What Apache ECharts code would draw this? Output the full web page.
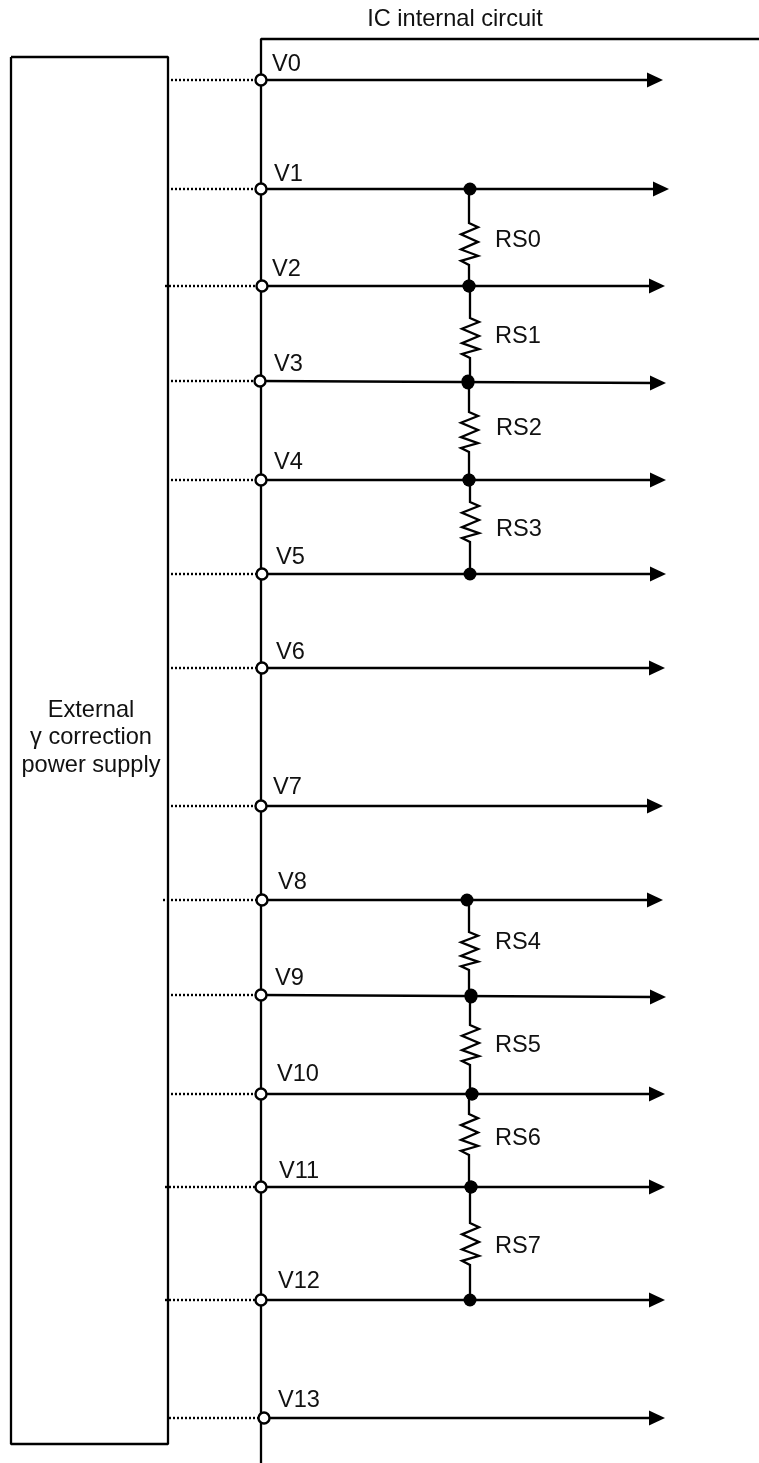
<!DOCTYPE html>
<html>
<head>
<meta charset="utf-8">
<style>html,body{margin:0;padding:0;background:#fff}#c{width:759px;height:1463px}</style>
<script src="https://cdn.jsdelivr.net/npm/echarts@6/dist/echarts.min.js"></script>
</head>
<body>
<div id="c"></div>
<script>
// Rails
const railNames = ['V0','V1','V2','V3','V4','V5','V6','V7','V8','V9','V10','V11','V12','V13'];
const railY     = [80,189,286,381,480,574,668,806,900,995,1094,1187,1300,1418];
const railEndY  = [80,189,286,383,480,574,668,806,900,997,1094,1187,1300,1418];
const pinX      = [261,261,262,260,261,262,262,261,262,261,261,261,261,264];
const dotStartX = [171,171,165,171,171,171,171,171,163,167,167,165,165,169];
const arrowTipX = [663,669,665,666,666,666,665,663,663,666,665,665,665,665];
const nameX     = [272,274,272,274,274,276,276,273,278,275,277,279,278,278];
const nameY     = [62,172,267,362,460,555,650,785,880,976,1072,1169,1279,1398];

// Resistors: rail above is resTop, rail below is resTop+1
const resNames  = ['RS0','RS1','RS2','RS3','RS4','RS5','RS6','RS7'];
const resTop    = [1,2,3,4,8,9,10,11];
const resX      = [469,470,469,470,469,470,469,470];
const resJoinX  = [[470,469],[469,468],[468,469],[469,470],[467,471],[471,472],[472,471],[471,470]];
const bodyTop   = [223,318,412,502,932,1025,1114,1223];
const bodyBot   = [265,358,452,542,970,1065,1155,1265];
const resLabelX = [495,495,496,496,495,495,495,495];
const resLabelY = [238,334,426,527,940,1043,1136,1244];
const zigX      = [0,9,-8,9,-8,9,-8,0];
const zigFrac   = [0,0.1,0.27,0.45,0.63,0.78,0.9,1];

// Supply box and IC outline
const boxX = [11,168,168,11,11];
const boxY = [57,57,1444,1444,57];
const icX  = [759,261,261];
const icY  = [39,39,1463];
const supplyLines = ['External','\u03b3 correction','power supply'];
const supplyLineY = [708,735,763];
const titleText = 'IC internal circuit';

const black = '#000';
const lineSeries = (pts, extra) => Object.assign({
  type:'line', data:pts, showSymbol:false, silent:true, animation:false, z:2,
  lineStyle:{color:black,width:2.3,opacity:1}
}, extra||{});

const series = [];
series.push(lineSeries(boxX.map((x,i)=>[x,boxY[i]])));
series.push(lineSeries(icX.map((x,i)=>[x,icY[i]])));

railNames.forEach((n,i)=>{
  series.push(lineSeries([[dotStartX[i],railY[i]],[pinX[i],railY[i]]],{lineStyle:{color:black,width:2.4,type:[2,2]}}));
  series.push(lineSeries([[pinX[i],railY[i]],[arrowTipX[i]-10,railEndY[i]]]));
});

resNames.forEach((n,i)=>{
  const t=resTop[i], b=t+1, x=resX[i], h=bodyBot[i]-bodyTop[i];
  const pts=[[x,railEndY[t]]];
  zigX.forEach((dx,k)=>pts.push([x+dx,bodyTop[i]+h*zigFrac[k]]));
  pts.push([x,railY[b]]);
  series.push(lineSeries(pts,{lineStyle:{color:black,width:2.3,join:'miter'}}));
});

// Arrow heads
series.push({type:'scatter',silent:true,animation:false,z:4,symbol:'triangle',symbolRotate:-90,symbolSize:[15,16],
  itemStyle:{color:black,opacity:1},data:arrowTipX.map((x,i)=>[x-8,railEndY[i]])});
// Junction dots
const junctions=[];
resNames.forEach((n,i)=>{
  junctions.push([resJoinX[i][0],railEndY[resTop[i]]]);
  junctions.push([resJoinX[i][1],railY[resTop[i]+1]]);
});
series.push({type:'scatter',silent:true,animation:false,z:5,symbol:'circle',symbolSize:13,itemStyle:{color:black,opacity:1},data:junctions});
// Pins
series.push({type:'scatter',silent:true,animation:false,z:6,symbol:'circle',symbolSize:11,
  itemStyle:{color:'#fff',borderColor:black,borderWidth:2.4,opacity:1},data:pinX.map((x,i)=>[x,railY[i]])});

// Text
const textSeries=(data,align)=>({type:'scatter',silent:true,animation:false,z:7,symbolSize:0,data:data,
  itemStyle:{opacity:1},
  label:{show:true,position:'inside',offset:[0,2],formatter:p=>p.value[2],color:'#111',fontFamily:'"Liberation Sans",Arial,sans-serif',fontSize:23.6,align:align,verticalAlign:'middle'}});
series.push(textSeries(railNames.map((n,i)=>[nameX[i],nameY[i],n]),'left'));
series.push(textSeries(resNames.map((n,i)=>[resLabelX[i],resLabelY[i],n]),'left'));
series.push(textSeries(supplyLines.map((s,i)=>[91,supplyLineY[i],s]),'center'));
series.push(textSeries([[455,17,titleText]],'center'));

const chart=echarts.init(document.getElementById('c'),null,{renderer:'canvas'});
chart.setOption({
  backgroundColor:'#fff',animation:false,
  grid:{left:0,right:0,top:0,bottom:0},
  xAxis:{type:'value',min:0,max:759,show:false},
  yAxis:{type:'value',min:0,max:1463,inverse:true,show:false},
  series:series
});
</script>
</body>
</html>
